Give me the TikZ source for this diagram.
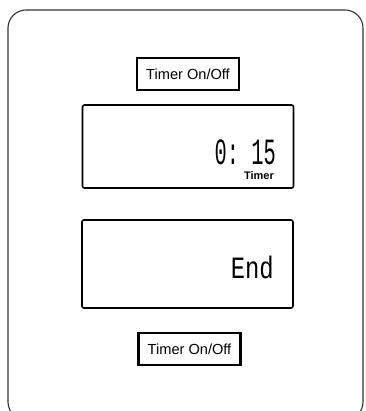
\documentclass[tikz,border=0pt]{standalone}
\usepackage{fontspec}
\setmainfont{Liberation Sans}
\newfontfamily\lcdfont{Liberation Mono}
\usetikzlibrary{positioning}

\begin{document}
\begin{tikzpicture}[
  x=1pt,y=-1pt,
  panel/.style={draw=black!80,line width=1.1pt,rounded corners=18pt},
  button/.style={draw,line width=2.4pt,minimum width=102pt,minimum height=32pt,inner sep=0pt,font=\fontsize{14.6}{16}\selectfont},
  lcd/.style={draw,line width=1.6pt,rounded corners=2pt,minimum width=211pt,inner sep=0pt},
  readout/.style={anchor=base east,inner sep=0pt,font=\lcdfont},
  tag/.style={anchor=base east,inner sep=0pt,font=\bfseries\fontsize{11}{12}\selectfont}
]
\useasboundingbox (0,0) rectangle (365,411);
\clip (0,0) rectangle (365,411);
\draw[panel] (8,10) rectangle (363,420);

\node[button] (btnTop) at (188,74) {Timer On/Off};
\node[lcd,minimum height=83pt] (lcdTimer) at (188,146.5) {};
\node[lcd,minimum height=88pt] (lcdEnd) at (187.5,264) {};
\node[button] (btnBottom) at (189.5,349) {Timer On/Off};

% readouts
\node[readout] (clock) at (276,165) {\scalebox{0.55}[1]{\fontsize{37}{37}\selectfont 0:\ 15}};
\node[tag] (timerTag) at (274,180) {Timer};
\node[readout] (endText) at (274,278) {\scalebox{0.77}[1]{\fontsize{31}{31}\selectfont End}};
\end{tikzpicture}
\end{document}
